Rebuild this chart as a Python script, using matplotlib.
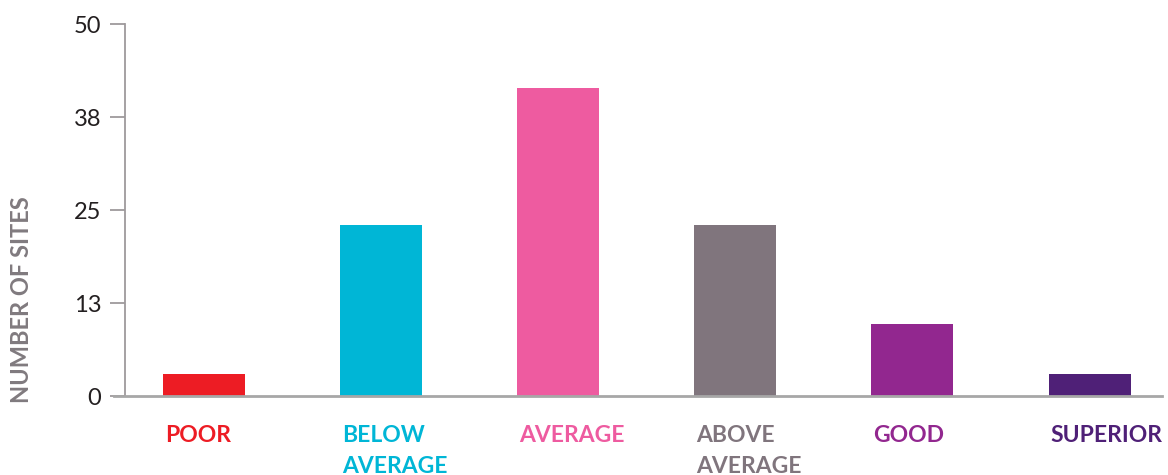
import matplotlib
matplotlib.use("Agg")
import matplotlib.pyplot as plt

categories = ['POOR', 'BELOW\nAVERAGE', 'AVERAGE', 'ABOVE\nAVERAGE', 'GOOD', 'SUPERIOR']
sites = [3, 23, 41.4, 23, 9.7, 3]
colors = ['#ED1C24', '#00B6D6', '#EE5BA0', '#80757D', '#92278F', '#4F2077']
yticks = [0, 12.5, 25, 37.5, 50]
ytick_labels = ['0', '13', '25', '38', '50']

plt.rcParams['font.family'] = ['Lato', 'DejaVu Sans']

fig = plt.figure(figsize=(11.68, 4.75), dpi=100)
ax = fig.add_axes([0.107, 0.166, 0.888, 0.783])

x = list(range(len(categories)))
width = 0.463
ax.bar(x, sites, width=width, color=colors, zorder=2)

ax.set_xlim(-0.446, 5.41)
ax.set_ylim(0, 50)
ax.set_yticks(yticks)
ax.set_yticklabels(ytick_labels, fontsize=17, color='#231F20', fontweight='normal')
ax.tick_params(axis='y', length=11, width=1.3, color='#9E9A9C', pad=6)
ax.set_xticks([])

for s in ['top', 'right']:
    ax.spines[s].set_visible(False)
ax.spines['left'].set_color('#9E9A9C')
ax.spines['left'].set_linewidth(1.3)
ax.spines['bottom'].set_color('#A7A7A7')
ax.spines['bottom'].set_linewidth(2)
ax.spines['bottom'].set_bounds(-0.446 - 11 / 177, 5.41)

# category labels, left aligned with each bar
for i, (lab, c) in enumerate(zip(categories, colors)):
    ax.text(i - width / 2 + 0.01, -3.9, lab, color=c, fontsize=16.5, fontweight='bold',
            ha='left', va='top', linespacing=1.55, clip_on=False)

fig.text(22 / 1168, 1 - 300 / 475, 'NUMBER OF SITES', fontsize=17, fontweight='bold',
         color='#807A7E', rotation=90, ha='center', va='center')

fig.savefig('out.png', dpi=100)
